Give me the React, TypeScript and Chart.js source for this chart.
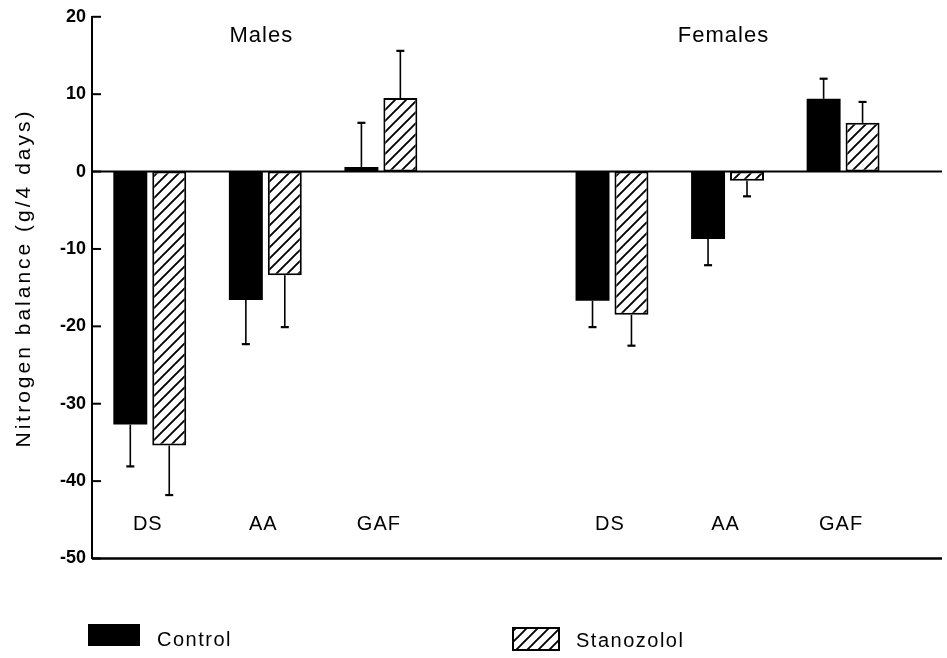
import { useEffect, useRef } from 'react';
import { Chart, registerables } from 'chart.js';

Chart.register(...registerables);

// Diet groups along the x axis; the empty slot separates males from females.
const groups = ['DS', 'AA', 'GAF', '', 'DS', 'AA', 'GAF'];
const sexLabels = ['Males', 'Females'];
const sexLabelSlots = [1, 5];
const seriesNames = ['Control', 'Stanozolol'];

// Mean nitrogen balance (g/4 days) and standard deviation for each group.
const controlMean = [-32.7, -16.6, 0.6, null, -16.7, -8.7, 9.4];
const controlSD = [5.4, 5.7, 5.7, null, 3.4, 3.4, 2.6];
const stanozololMean = [-35.4, -13.4, 9.5, null, -18.5, -1.2, 6.3];
const stanozololSD = [6.4, 6.7, 6.1, null, 4.0, 2.0, 2.7];

const yMin = -50;
const yMax = 20;
const yStep = 10;
const yTitle = 'Nitrogen balance (g/4 days)';

const FONT = '"Liberation Sans", Arial, sans-serif';

function makeHatch(ctx: CanvasRenderingContext2D): CanvasPattern | string {
  const s = 11;
  const tile = document.createElement('canvas');
  tile.width = s;
  tile.height = s;
  const c = tile.getContext('2d');
  if (!c) return '#fff';
  c.fillStyle = '#fff';
  c.fillRect(0, 0, s, s);
  c.strokeStyle = '#000';
  c.lineWidth = 1.9;
  c.beginPath();
  c.moveTo(-2, s + 2);
  c.lineTo(s + 2, -2);
  c.moveTo(-2, 2);
  c.lineTo(2, -2);
  c.moveTo(s - 2, s + 2);
  c.lineTo(s + 2, s - 2);
  c.stroke();
  return ctx.createPattern(tile, 'repeat') || '#fff';
}

function makeDecorations(hatch: CanvasPattern | string) {
  return {
    id: 'decorations',
    afterDatasetsDraw(chart: any) {
      const { ctx, chartArea: a } = chart;
      const x = chart.scales.x;
      const y = chart.scales.y;
      const line = (x1: number, y1: number, x2: number, y2: number) => {
        ctx.beginPath();
        ctx.moveTo(x1, y1);
        ctx.lineTo(x2, y2);
        ctx.stroke();
      };
      ctx.save();
      ctx.strokeStyle = '#000';
      ctx.fillStyle = '#000';

      // zero line and bottom axis across the full width
      ctx.lineWidth = 2;
      const y0 = y.getPixelForValue(0);
      line(a.left, y0, a.right, y0);
      ctx.lineWidth = 2.5;
      line(a.left, a.bottom, a.right, a.bottom);

      // tick marks pointing into the plot
      ctx.lineWidth = 2;
      y.ticks.forEach((t: any) => {
        const py = y.getPixelForValue(t.value);
        line(a.left, py, a.left + 9, py);
      });

      // error bars away from the zero line
      const means = [controlMean, stanozololMean];
      const sds = [controlSD, stanozololSD];
      ctx.lineWidth = 1.6;
      sds.forEach((sd, d) => {
        const meta = chart.getDatasetMeta(d);
        meta.data.forEach((bar: any, i: number) => {
          const m = means[d][i];
          const e = sd[i];
          if (m == null || e == null) return;
          const end = y.getPixelForValue(m + Math.sign(m) * e);
          line(bar.x, bar.y, bar.x, end);
          ctx.lineWidth = 2.2;
          line(bar.x - 4, end, bar.x + 4, end);
          ctx.lineWidth = 1.6;
        });
      });

      // group names inside the plot, above the bottom axis
      ctx.textAlign = 'center';
      ctx.textBaseline = 'alphabetic';
      (ctx as any).letterSpacing = '1px';
      ctx.font = `20px ${FONT}`;
      groups.forEach((g, i) => {
        if (!g) return;
        ctx.fillText(g, x.getPixelForValue(i) - 2, y.getPixelForValue(-46.3));
      });

      // sex headings
      ctx.font = `22px ${FONT}`;
      sexLabels.forEach((s, k) => {
        ctx.fillText(s, x.getPixelForValue(sexLabelSlots[k]) - 4, y.getPixelForValue(16.8));
      });

      // y axis title
      ctx.save();
      ctx.translate(24, 278);
      ctx.rotate(-Math.PI / 2);
      ctx.font = `21px ${FONT}`;
      (ctx as any).letterSpacing = '3px';
      ctx.textBaseline = 'middle';
      ctx.fillText(yTitle, 0, 0);
      ctx.restore();

      // legend
      (ctx as any).letterSpacing = '1.5px';
      ctx.textAlign = 'left';
      ctx.font = `20px ${FONT}`;
      ctx.fillStyle = '#000';
      ctx.fillRect(88, 624, 52, 22);
      ctx.fillText(seriesNames[0], 157, 646);
      ctx.fillStyle = hatch as any;
      ctx.fillRect(513, 628, 46, 22);
      ctx.lineWidth = 2;
      ctx.strokeRect(513, 628, 46, 22);
      ctx.fillStyle = '#000';
      ctx.fillText(seriesNames[1], 576, 647);

      ctx.restore();
    },
  };
}

export default function App() {
  const ref = useRef<HTMLCanvasElement | null>(null);

  useEffect(() => {
    document.body.style.margin = '0';
    const canvas = ref.current;
    if (!canvas) return;
    const ctx = canvas.getContext('2d');
    if (!ctx) return;
    const hatch = makeHatch(ctx);

    const barShape = { categoryPercentage: 0.674, barPercentage: 0.872 };

    const chart = new Chart(canvas, {
      type: 'bar',
      data: {
        datasets: [
          {
            label: seriesNames[0],
            data: controlMean.map((v, i) => ({ x: i, y: v })) as any,
            backgroundColor: '#000',
            borderColor: '#000',
            borderWidth: 0,
            ...barShape,
          },
          {
            label: seriesNames[1],
            data: stanozololMean.map((v, i) => ({ x: i, y: v })) as any,
            backgroundColor: hatch as any,
            borderColor: '#000',
            borderWidth: 2,
            borderSkipped: false,
            ...barShape,
          },
        ],
      },
      options: {
        responsive: false,
        animation: false,
        layout: { padding: { top: 16, right: 5, bottom: 99.5, left: 0 } },
        plugins: {
          legend: { display: false },
          tooltip: { enabled: false },
        },
        scales: {
          x: {
            type: 'linear',
            display: false,
            offset: false,
            grid: { offset: false },
            min: -0.5,
            max: 6.856,
            afterBuildTicks: (s: any) => {
              s.ticks = groups.map((_, i) => ({ value: i }));
            },
          },
          y: {
            min: yMin,
            max: yMax,
            ticks: {
              stepSize: yStep,
              padding: 6,
              color: '#000',
              font: { family: FONT, size: 18, weight: 'bold' },
            },
            grid: { display: false, drawTicks: false },
            border: { display: true, color: '#000', width: 2 },
            afterFit: (s: any) => {
              s.width = 92;
            },
          },
        },
      } as any,
      plugins: [makeDecorations(hatch)],
    });

    return () => chart.destroy();
  }, []);

  return (
    <div style={{ width: 947, height: 658, background: '#fff' }}>
      <canvas ref={ref} width={947} height={658} />
    </div>
  );
}
